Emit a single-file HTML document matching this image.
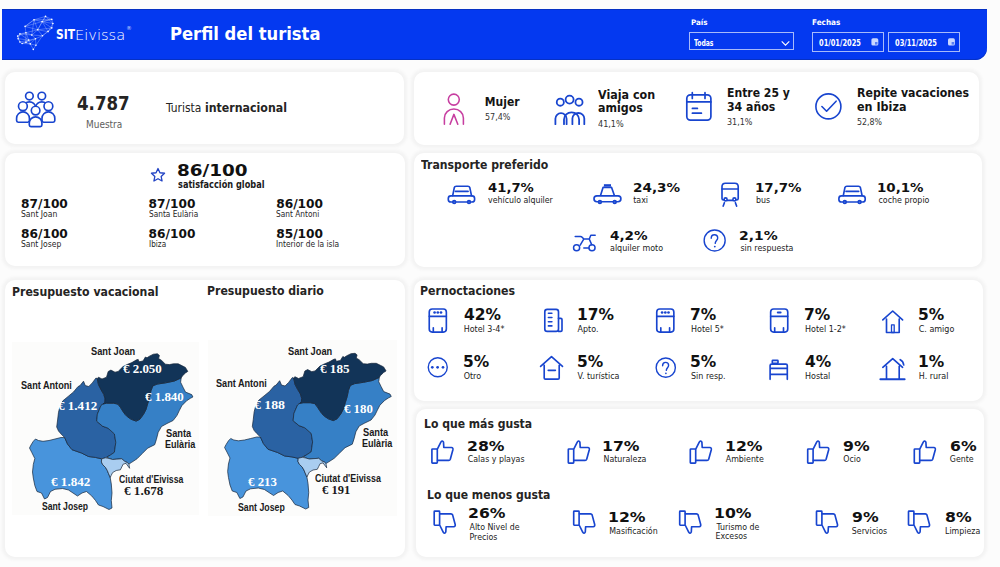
<!DOCTYPE html>
<html><head><meta charset="utf-8"><title>Perfil del turista</title>
<style>
html,body{margin:0;padding:0;width:1000px;height:567px;overflow:hidden;background:#fcfcfc}
.t{position:absolute;white-space:nowrap;transform-origin:0 0}
.card{position:absolute;background:#fff;border-radius:10px;box-shadow:0 0 3px 3px #f3f3f3}
.box{position:absolute;border:1px solid rgba(255,255,255,0.65);box-sizing:border-box}
</style></head><body>
<div style="position:absolute;left:2px;top:9px;width:985px;height:51px;background:#0439f0;border-radius:0 0 12px 0;box-shadow:inset 0 1px 0 #0631c4,inset 0 -1px 0 #0631c4"></div>
<div class="box" style="left:688.6px;top:32.2px;width:105.2px;height:18px"></div>
<div class="box" style="left:811.6px;top:32.1px;width:72px;height:20.1px"></div>
<div class="box" style="left:888.4px;top:32.1px;width:71.4px;height:20.1px"></div>
<div class="card" style="left:5px;top:72px;width:399.3px;height:72px"></div>
<div class="card" style="left:413.8px;top:72px;width:565.7px;height:73.3px"></div>
<div class="card" style="left:5px;top:152.5px;width:399.5px;height:113.5px"></div>
<div class="card" style="left:413.8px;top:152.5px;width:568.2px;height:114.5px"></div>
<div class="card" style="left:5px;top:279.7px;width:399.8px;height:277px"></div>
<div class="card" style="left:414.3px;top:279.7px;width:568.3px;height:121.5px"></div>
<div class="card" style="left:416.2px;top:409px;width:568.1px;height:148.3px"></div>
<div style="position:absolute;left:12.4px;top:342.4px;width:187px;height:173px;background:#fcfcfb"></div>
<div style="position:absolute;left:207.5px;top:340px;width:189.5px;height:175.5px;background:#fcfcfb"></div>
<svg style="position:absolute;left:0;top:0" width="1000" height="567" viewBox="0 0 1000 567">
<g stroke="#d6e2ff" stroke-width="0.42" stroke-opacity="0.75"><line x1="34" y1="19.8" x2="45.5" y2="16.4"/><line x1="45.5" y1="16.4" x2="51.8" y2="19.4"/><line x1="51.8" y1="19.4" x2="52.9" y2="23.5"/><line x1="52.9" y1="23.5" x2="51.8" y2="27.9"/><line x1="51.8" y1="27.9" x2="48.1" y2="31.6"/><line x1="48.1" y1="31.6" x2="42.5" y2="35.7"/><line x1="42.5" y1="35.7" x2="35.5" y2="38.7"/><line x1="34" y1="19.8" x2="25.1" y2="26.4"/><line x1="25.1" y1="26.4" x2="25.9" y2="32.7"/><line x1="25.9" y1="32.7" x2="19.9" y2="33.9"/><line x1="19.9" y1="33.9" x2="17.7" y2="36.1"/><line x1="17.7" y1="36.1" x2="18.1" y2="38.7"/><line x1="18.1" y1="38.7" x2="19.9" y2="42"/><line x1="19.9" y1="42" x2="22.1" y2="43.5"/><line x1="22.1" y1="43.5" x2="25.9" y2="42.4"/><line x1="25.9" y1="42.4" x2="30.3" y2="43.9"/><line x1="30.3" y1="43.9" x2="35.9" y2="45.3"/><line x1="35.9" y1="45.3" x2="33.3" y2="49.4"/><line x1="33.3" y1="49.4" x2="30.3" y2="43.9"/><line x1="34" y1="19.8" x2="42.1" y2="21.6"/><line x1="42.1" y1="21.6" x2="45.5" y2="16.4"/><line x1="42.1" y1="21.6" x2="51.8" y2="19.4"/><line x1="34" y1="19.8" x2="37.7" y2="29.8"/><line x1="37.7" y1="29.8" x2="42.1" y2="21.6"/><line x1="37.7" y1="29.8" x2="42.5" y2="35.7"/><line x1="42.1" y1="21.6" x2="51.8" y2="27.9"/><line x1="52.9" y1="23.5" x2="42.1" y2="21.6"/><line x1="25.1" y1="26.4" x2="37.7" y2="29.8"/><line x1="25.9" y1="32.7" x2="31.8" y2="35"/><line x1="31.8" y1="35" x2="37.7" y2="29.8"/><line x1="31.8" y1="35" x2="35.5" y2="38.7"/><line x1="35.5" y1="38.7" x2="35.9" y2="45.3"/><line x1="25.9" y1="32.7" x2="28.8" y2="40.1"/><line x1="28.8" y1="40.1" x2="30.3" y2="43.9"/><line x1="28.8" y1="40.1" x2="35.5" y2="38.7"/><line x1="19.9" y1="33.9" x2="28.8" y2="40.1"/><line x1="25.9" y1="42.4" x2="28.8" y2="40.1"/><line x1="34" y1="19.8" x2="31.8" y2="35"/><line x1="19.9" y1="33.9" x2="18.1" y2="38.7"/><line x1="17.7" y1="36.1" x2="19.9" y2="42"/><line x1="22.1" y1="43.5" x2="28.8" y2="40.1"/><line x1="45.5" y1="16.4" x2="52.9" y2="23.5"/><line x1="42.1" y1="21.6" x2="48.1" y2="31.6"/><line x1="37.7" y1="29.8" x2="48.1" y2="31.6"/><line x1="25.1" y1="26.4" x2="42.1" y2="21.6"/><line x1="25.9" y1="32.7" x2="37.7" y2="29.8"/><line x1="19.9" y1="33.9" x2="31.8" y2="35"/><line x1="17.7" y1="36.1" x2="25.9" y2="32.7"/><line x1="18.1" y1="38.7" x2="28.8" y2="40.1"/><line x1="19.9" y1="42" x2="28.8" y2="40.1"/><line x1="22.1" y1="43.5" x2="30.3" y2="43.9"/><line x1="25.9" y1="42.4" x2="35.5" y2="38.7"/><line x1="30.3" y1="43.9" x2="35.5" y2="38.7"/><line x1="35.9" y1="45.3" x2="42.5" y2="35.7"/><line x1="31.8" y1="35" x2="42.5" y2="35.7"/><line x1="37.7" y1="29.8" x2="51.8" y2="27.9"/><line x1="45.5" y1="16.4" x2="37.7" y2="29.8"/><line x1="25.1" y1="26.4" x2="34" y2="19.8"/><line x1="34" y1="19.8" x2="51.8" y2="19.4"/><line x1="51.8" y1="19.4" x2="42.1" y2="21.6"/><line x1="52.9" y1="23.5" x2="48.1" y2="31.6"/><line x1="51.8" y1="27.9" x2="42.5" y2="35.7"/><line x1="25.9" y1="32.7" x2="25.9" y2="42.4"/></g><g fill="#ffffff"><circle cx="45.5" cy="16.4" r="0.8"/><circle cx="34" cy="19.8" r="0.8"/><circle cx="51.8" cy="19.4" r="0.8"/><circle cx="52.9" cy="23.5" r="0.8"/><circle cx="42.1" cy="21.6" r="0.8"/><circle cx="25.1" cy="26.4" r="0.8"/><circle cx="51.8" cy="27.9" r="0.8"/><circle cx="37.7" cy="29.8" r="0.8"/><circle cx="48.1" cy="31.6" r="0.8"/><circle cx="25.9" cy="32.7" r="0.8"/><circle cx="19.9" cy="33.9" r="0.8"/><circle cx="17.7" cy="36.1" r="0.8"/><circle cx="42.5" cy="35.7" r="0.8"/><circle cx="35.5" cy="38.7" r="0.8"/><circle cx="18.1" cy="38.7" r="0.8"/><circle cx="19.9" cy="42" r="0.8"/><circle cx="22.1" cy="43.5" r="0.8"/><circle cx="25.9" cy="42.4" r="0.8"/><circle cx="30.3" cy="43.9" r="0.8"/><circle cx="35.9" cy="45.3" r="0.8"/><circle cx="33.3" cy="49.4" r="0.8"/><circle cx="28.8" cy="40.1" r="0.8"/><circle cx="31.8" cy="35" r="0.8"/></g>

<path d="M781.7,41.3 L785.5,45.1 L789.3,41.3" fill="none" stroke="#fff" stroke-width="1.1"/>
<g fill="#c9d6ff"><rect x="871.4" y="38.3" width="6.9" height="7.2" rx="1.6"/><rect x="948" y="38.3" width="6.9" height="7.2" rx="1.6"/></g>
<g fill="#5a7ef5"><rect x="875" y="42" width="2.5" height="2.6"/><rect x="951.6" y="42" width="2.5" height="2.6"/></g>
<g stroke="#16253a" stroke-width="0.7" stroke-linejoin="round"><polygon points="33.3,441.3 35.5,439.0 38.5,440.5 43.0,441.3 49.0,440.5 55.0,439.0 61.0,437.5 64.7,437.6 67.5,444.0 72.0,449.7 81.5,453.0 88.5,456.5 95.3,457.4 101.7,458.8 101.4,462.0 102.8,464.8 105.6,467.6 107.3,470.5 108.4,473.3 110.2,477.5 111.3,484.0 112.0,493.0 111.3,500.5 112.0,508.0 109.0,509.5 103.0,506.5 98.5,505.0 95.5,500.5 91.8,496.0 86.5,491.5 82.0,493.0 77.5,496.0 73.0,493.0 68.5,490.0 62.5,488.5 55.0,489.3 50.5,491.5 47.5,497.5 44.5,499.0 41.5,493.0 37.0,491.5 34.8,485.5 33.3,478.0 32.5,472.0 33.3,464.5 34.8,458.5 31.8,452.5 29.5,448.0 31.0,445.0" fill="#4894dc"/><polygon points="77.9,386.7 80.0,385.6 83.5,381.2 85.3,385.6 88.8,386.5 92.3,382.9 95.9,378.1 97.2,378.5 98.5,384.7 101.2,390.0 103.8,394.4 105.1,398.8 104.8,402.3 103.0,404.0 101.0,405.5 97.4,414.1 96.7,421.2 102.4,426.1 108.0,428.2 114.4,433.9 115.8,442.4 114.4,452.3 110.5,455.0 107.0,457.0 105.6,457.8 101.7,458.8 95.3,457.4 88.5,456.5 81.5,453.0 72.0,449.7 67.5,444.0 64.7,437.6 61.1,434.0 58.5,431.0 56.7,427.0 57.6,420.0 58.5,412.3 60.3,405.3 62.9,400.8 68.2,396.4 73.5,392.0" fill="#2a62a3"/><polygon points="103.0,404.0 106.5,403.2 113.5,403.2 117.9,404.1 120.6,407.6 122.7,411.0 125.0,414.3 127.5,416.8 131.2,419.3 136.1,421.1 139.8,419.3 143.5,414.3 146.0,409.4 147.8,403.2 149.7,397.0 150.9,390.9 152.8,385.9 157.1,384.1 165.7,382.8 174.4,381.0 181.2,377.9 180.6,382.2 183.0,387.2 185.5,392.1 191.7,394.6 192.9,397.0 190.4,398.3 186.7,400.7 181.8,405.7 179.3,410.6 176.9,415.6 173.1,420.5 167.0,423.5 161.5,426.5 158.2,432.3 156.4,439.4 154.7,444.7 147.6,448.2 142.3,453.5 137.0,458.8 131.7,462.3 128.9,464.1 127.5,462.7 124.6,461.3 121.8,458.8 116.2,459.2 112.6,459.5 109.1,458.5 107.0,457.0 110.5,455.0 114.4,452.3 115.8,442.4 114.4,433.9 108.0,428.2 102.4,426.1 96.7,421.2 97.4,414.1 101.0,405.5" fill="#3680c6"/><polygon points="101.7,458.8 105.6,457.8 109.1,458.5 112.6,459.5 116.2,459.2 121.8,458.8 124.6,461.3 127.5,462.7 128.9,464.1 129.6,468.3 126.0,463.4 123.2,464.1 121.8,466.9 120.4,469.8 116.2,470.5 112.6,472.6 111.2,475.4 110.2,477.5 108.4,473.3 107.3,470.5 105.6,467.6 102.8,464.8 101.4,462.0" fill="#a9cdf0"/><polygon points="97.2,378.5 98.5,377.2 102.0,379.0 106.5,377.2 108.2,371.5 110.9,370.1 115.0,372.2 118.2,371.4 123.0,366.6 127.8,364.2 131.8,362.6 136.6,359.8 138.2,359.4 139.0,361.8 143.0,361.0 145.4,357.0 147.0,357.8 149.4,356.2 153.4,354.2 157.4,353.8 159.4,355.4 158.6,358.6 161.4,360.2 165.4,364.2 169.4,364.6 173.4,363.8 178.2,363.8 182.2,365.8 185.4,367.4 187.8,371.4 185.4,373.0 182.2,376.2 181.2,377.9 174.4,381.0 165.7,382.8 157.1,384.1 152.8,385.9 150.9,390.9 149.7,397.0 147.8,403.2 146.0,409.4 143.5,414.3 139.8,419.3 136.1,421.1 131.2,419.3 127.5,416.8 125.0,414.3 122.7,411.0 120.6,407.6 117.9,404.1 113.5,403.2 106.5,403.2 103.0,404.0 104.8,402.3 105.1,398.8 103.8,394.4 101.2,390.0 98.5,384.7" fill="#123458"/></g>
<g transform="translate(194.5,-0.5) scale(1.02,1)"><g stroke="#16253a" stroke-width="0.7" stroke-linejoin="round"><polygon points="33.3,441.3 35.5,439.0 38.5,440.5 43.0,441.3 49.0,440.5 55.0,439.0 61.0,437.5 64.7,437.6 67.5,444.0 72.0,449.7 81.5,453.0 88.5,456.5 95.3,457.4 101.7,458.8 101.4,462.0 102.8,464.8 105.6,467.6 107.3,470.5 108.4,473.3 110.2,477.5 111.3,484.0 112.0,493.0 111.3,500.5 112.0,508.0 109.0,509.5 103.0,506.5 98.5,505.0 95.5,500.5 91.8,496.0 86.5,491.5 82.0,493.0 77.5,496.0 73.0,493.0 68.5,490.0 62.5,488.5 55.0,489.3 50.5,491.5 47.5,497.5 44.5,499.0 41.5,493.0 37.0,491.5 34.8,485.5 33.3,478.0 32.5,472.0 33.3,464.5 34.8,458.5 31.8,452.5 29.5,448.0 31.0,445.0" fill="#4894dc"/><polygon points="77.9,386.7 80.0,385.6 83.5,381.2 85.3,385.6 88.8,386.5 92.3,382.9 95.9,378.1 97.2,378.5 98.5,384.7 101.2,390.0 103.8,394.4 105.1,398.8 104.8,402.3 103.0,404.0 101.0,405.5 97.4,414.1 96.7,421.2 102.4,426.1 108.0,428.2 114.4,433.9 115.8,442.4 114.4,452.3 110.5,455.0 107.0,457.0 105.6,457.8 101.7,458.8 95.3,457.4 88.5,456.5 81.5,453.0 72.0,449.7 67.5,444.0 64.7,437.6 61.1,434.0 58.5,431.0 56.7,427.0 57.6,420.0 58.5,412.3 60.3,405.3 62.9,400.8 68.2,396.4 73.5,392.0" fill="#2a62a3"/><polygon points="103.0,404.0 106.5,403.2 113.5,403.2 117.9,404.1 120.6,407.6 122.7,411.0 125.0,414.3 127.5,416.8 131.2,419.3 136.1,421.1 139.8,419.3 143.5,414.3 146.0,409.4 147.8,403.2 149.7,397.0 150.9,390.9 152.8,385.9 157.1,384.1 165.7,382.8 174.4,381.0 181.2,377.9 180.6,382.2 183.0,387.2 185.5,392.1 191.7,394.6 192.9,397.0 190.4,398.3 186.7,400.7 181.8,405.7 179.3,410.6 176.9,415.6 173.1,420.5 167.0,423.5 161.5,426.5 158.2,432.3 156.4,439.4 154.7,444.7 147.6,448.2 142.3,453.5 137.0,458.8 131.7,462.3 128.9,464.1 127.5,462.7 124.6,461.3 121.8,458.8 116.2,459.2 112.6,459.5 109.1,458.5 107.0,457.0 110.5,455.0 114.4,452.3 115.8,442.4 114.4,433.9 108.0,428.2 102.4,426.1 96.7,421.2 97.4,414.1 101.0,405.5" fill="#3680c6"/><polygon points="101.7,458.8 105.6,457.8 109.1,458.5 112.6,459.5 116.2,459.2 121.8,458.8 124.6,461.3 127.5,462.7 128.9,464.1 129.6,468.3 126.0,463.4 123.2,464.1 121.8,466.9 120.4,469.8 116.2,470.5 112.6,472.6 111.2,475.4 110.2,477.5 108.4,473.3 107.3,470.5 105.6,467.6 102.8,464.8 101.4,462.0" fill="#a9cdf0"/><polygon points="97.2,378.5 98.5,377.2 102.0,379.0 106.5,377.2 108.2,371.5 110.9,370.1 115.0,372.2 118.2,371.4 123.0,366.6 127.8,364.2 131.8,362.6 136.6,359.8 138.2,359.4 139.0,361.8 143.0,361.0 145.4,357.0 147.0,357.8 149.4,356.2 153.4,354.2 157.4,353.8 159.4,355.4 158.6,358.6 161.4,360.2 165.4,364.2 169.4,364.6 173.4,363.8 178.2,363.8 182.2,365.8 185.4,367.4 187.8,371.4 185.4,373.0 182.2,376.2 181.2,377.9 174.4,381.0 165.7,382.8 157.1,384.1 152.8,385.9 150.9,390.9 149.7,397.0 147.8,403.2 146.0,409.4 143.5,414.3 139.8,419.3 136.1,421.1 131.2,419.3 127.5,416.8 125.0,414.3 122.7,411.0 120.6,407.6 117.9,404.1 113.5,403.2 106.5,403.2 103.0,404.0 104.8,402.3 105.1,398.8 103.8,394.4 101.2,390.0 98.5,384.7" fill="#123458"/></g></g>
<g fill="none" stroke="#1845cf" stroke-width="1.65" stroke-linecap="round" stroke-linejoin="round"><g><path d="M23.4,110 L23.4,106.92 A6.00,5.02 0 0 1 35.4,106.92 L35.4,110" fill="#fff"/><circle cx="29.4" cy="96.1" r="3.8" fill="#fff"/><path d="M35.8,110 L35.8,106.92 A6.00,5.02 0 0 1 47.8,106.92 L47.8,110" fill="#fff"/><circle cx="41.8" cy="96.1" r="3.8" fill="#fff"/><path d="M16.6,120.60000000000001 L16.6,118.29 A6.40,6.39 0 0 1 29.4,118.29 L29.4,120.60000000000001 Q29.4,122.2 27.799999999999997,122.2 L18.200000000000003,122.2 Q16.6,122.2 16.6,120.60000000000001 Z" fill="#fff"/><circle cx="22.9" cy="106.2" r="4.4" fill="#fff"/><path d="M42,120.60000000000001 L42,118.29 A6.40,6.39 0 0 1 54.8,118.29 L54.8,120.60000000000001 Q54.8,122.2 53.199999999999996,122.2 L43.6,122.2 Q42,122.2 42,120.60000000000001 Z" fill="#fff"/><circle cx="48.4" cy="106.2" r="4.4" fill="#fff"/><path d="M29.3,125.0 L29.3,122.91 A6.30,6.01 0 0 1 41.9,122.91 L41.9,125.0 Q41.9,126.6 40.3,126.6 L30.900000000000002,126.6 Q29.3,126.6 29.3,125.0 Z" fill="#fff"/><circle cx="35.6" cy="110.6" r="4.3" fill="#fff"/></g><g stroke-width="1.8"><circle cx="560.3" cy="102.2" r="3.55"/><circle cx="569.6" cy="99.6" r="4.0"/><circle cx="579" cy="102.2" r="3.55"/><path d="M555.4,124.2 L555.4,118.8 A5.6,5.6 0 0 1 566.6,118.8 L566.6,124.2"/><path d="M564,124.2 L564,119.6 A7.55,7.3 0 0 1 579.1,119.6 L579.1,124.2"/><path d="M572.4,124.2 L572.4,118.6 A5.95,5.6 0 0 1 584.3,118.6 L584.3,124.2"/></g><g stroke-width="1.7"><rect x="686.8" y="94.9" width="24.1" height="25.2" rx="3.6"/><path d="M686.8,101.9 L710.9,101.9 M692.3,92.7 L692.3,98.4 M705,92.7 L705,98.4 M692.4,108.4 L697.4,108.4 M692.4,113.2 L701.4,113.2"/></g><g stroke-width="1.6"><circle cx="828.4" cy="106.4" r="12.5"/><path d="M821.9,106.5 L826.6,111.2 L836.1,101.2"/></g><polygon points="158.00,168.50 159.94,172.73 164.56,173.27 161.14,176.42 162.06,180.98 158.00,178.70 153.94,180.98 154.86,176.42 151.44,173.27 156.06,172.73" stroke="#2243c4" stroke-width="1.3"/><g><path d="M452.7,195.6 L454.3,187.6 Q454.7,186.2 456.2,186.2 L467.9,186.2 Q469.4,186.2 469.8,187.6 L471.5,195.6"/><path d="M455.4,191.4 L468.1,191.4"/><rect x="448.3" y="195.9" width="26.3" height="6.1" rx="2.6"/><circle cx="454.2" cy="202.1" r="1.4" fill="#6f8fe6" stroke-width="1.7"/><circle cx="469" cy="202.1" r="1.4" fill="#6f8fe6" stroke-width="1.7"/></g><g transform="translate(390.6,0)"><path d="M452.7,195.6 L454.3,187.6 Q454.7,186.2 456.2,186.2 L467.9,186.2 Q469.4,186.2 469.8,187.6 L471.5,195.6"/><path d="M455.4,191.4 L468.1,191.4"/><rect x="448.3" y="195.9" width="26.3" height="6.1" rx="2.6"/><circle cx="454.2" cy="202.1" r="1.4" fill="#6f8fe6" stroke-width="1.7"/><circle cx="469" cy="202.1" r="1.4" fill="#6f8fe6" stroke-width="1.7"/></g><rect x="603.9" y="184.2" width="7.1" height="2.4" fill="#1845cf" stroke="none"/><path d="M600.6,195.2 L603.1,187.3 L611.5,187.3 L614.3,195.2"/><rect x="594" y="195.9" width="26.9" height="5.8" rx="2.9"/><circle cx="599.9" cy="202" r="1.4" fill="#6f8fe6" stroke-width="1.7"/><circle cx="614.7" cy="202" r="1.4" fill="#6f8fe6" stroke-width="1.7"/><path d="M723.4,199.9 Q722,199.9 722,198.4 L722,186.6 Q722,183.2 725.4,183.2 L734.8,183.2 Q738.2,183.2 738.2,186.6 L738.2,198.4 Q738.2,199.9 736.7,199.9"/><path d="M722,189 L738.2,189 M727.2,200.4 L732.5,200.4 M724.4,202.7 L723.2,206.1 M735.4,202.7 L736.6,206.1"/><circle cx="725.6" cy="199.4" r="1.5" fill="#fff"/><circle cx="734.4" cy="199.4" r="1.5" fill="#fff"/><g stroke-width="1.5"><circle cx="576.6" cy="247.8" r="3.05"/><circle cx="592" cy="247.8" r="3.05"/><path d="M575.2,236.4 L580.4,236.4 Q581.5,236.4 582.4,237.4 L583.8,239.1 L589.3,239.1 L590.8,235.2 L595.2,235.2 M589.3,239.1 L591.7,244.6 M583.6,239.4 L580.2,245.2 M583.8,248 L588.8,248"/></g><g stroke-width="1.4"><circle cx="714.65" cy="240.45" r="10.5"/><path d="M711.2,238.3 C711.2,236 712.6,234.7 714.4,234.7 C716.3,234.7 717.7,236 717.7,237.9 C717.7,240.3 715.3,240.8 715.2,243.4"/><circle cx="714.8" cy="246.6" r="0.9" fill="#1845cf" stroke="none"/></g><g transform="translate(0,0)"><rect x="429.25" y="308.95" width="17.1" height="23.1" rx="3"/><path d="M429.25,316.3 L446.35,316.3 M433.3,327.8 L433.3,331.8 M442.1,327.8 L442.1,331.8"/><g fill="#1845cf" stroke="none"><circle cx="434.6" cy="312.5" r="1.35"/><circle cx="437.8" cy="312.5" r="1.35"/><circle cx="441" cy="312.5" r="1.35"/></g></g><g transform="translate(227.5,0)"><rect x="429.25" y="308.95" width="17.1" height="23.1" rx="3"/><path d="M429.25,316.3 L446.35,316.3 M433.3,327.8 L433.3,331.8 M442.1,327.8 L442.1,331.8"/><g fill="#1845cf" stroke="none"><circle cx="434.6" cy="312.5" r="1.35"/><circle cx="437.8" cy="312.5" r="1.35"/><circle cx="441" cy="312.5" r="1.35"/></g></g><g transform="translate(341.4,0)"><rect x="429.25" y="308.95" width="17.1" height="23.1" rx="3"/><path d="M429.25,316.3 L446.35,316.3 M433.3,327.8 L433.3,331.8 M442.1,327.8 L442.1,331.8"/><rect x="435.4" y="311.5" width="4.8" height="2" rx="1" fill="#1845cf" stroke="none"/></g><rect x="544.8" y="309.3" width="13.7" height="22.1" rx="2.4"/><path d="M558.5,318.4 L560.8,318.4 Q562,318.4 562,319.6 L562,330.2 Q562,331.4 560.8,331.4 L558.5,331.4"/><path d="M548.4,313.3 L551.9,313.3 M548.4,317.5 L551.9,317.5 M548.4,321.7 L551.9,321.7 M548.4,325.9 L551.9,325.9" stroke-width="1.6"/><path d="M882.8,319.9 L892.7,311 L902.6,319.9 M886.5,319 L886.5,332.5 L899.2,332.5 L899.2,319"/><rect x="891.5" y="324.8" width="2.7" height="7.7" stroke-width="1.3"/><g stroke-width="1.4"><circle cx="437.75" cy="367.2" r="9.5"/></g><g fill="#1845cf" stroke="none"><circle cx="432.3" cy="367.3" r="1.35"/><circle cx="437.6" cy="367.3" r="1.35"/><circle cx="443" cy="367.3" r="1.35"/></g><path d="M540.6,366.4 L551.5,356.6 L562.5,366.4 M544.2,365.3 L544.2,377.9 Q544.2,379.1 545.4,379.1 L558,379.1 Q559.2,379.1 559.2,377.9 L559.2,365.3 M548.2,370.3 L555.4,370.3"/><g stroke-width="1.4"><circle cx="665.75" cy="367.65" r="9.6"/><path d="M662.6,365.7 C662.6,363.6 663.9,362.4 665.5,362.4 C667.2,362.4 668.6,363.6 668.6,365.3 C668.6,367.5 666.4,368 666.3,370.4"/><circle cx="665.9" cy="373.3" r="0.85" fill="#1845cf" stroke="none"/></g><rect x="772.3" y="360.4" width="5.7" height="3" rx="0.6"/><path d="M770.1,379.3 L770.1,365.6 Q770.1,364.1 771.6,364.1 L785.8,364.1 Q787.3,364.1 787.3,365.6 L787.3,379.3 M770.1,368.3 L787.3,368.3 M770.1,374.4 L787.3,374.4"/><path d="M882.8,367.3 L892.7,358.6 L902.6,367.3 M886.5,366.2 L886.5,379 M899.2,366.2 L899.2,379 M900.2,359.7 Q903.3,361.2 903.7,365"/><path d="M880.4,379.2 L904.6,379.2" stroke-width="2"/><g transform="translate(0,0)"><rect x="431.9" y="449" width="5.4" height="14.1" rx="0.6"/><path d="M437.6,448.7 L441,441.9 Q442.4,439.9 443.5,442.2 L443.8,447.4 L451.4,447.5 Q453.3,447.7 452.9,449.7 L450.3,459.3 Q449.9,460.4 448.7,460.4 L437.6,460.4"/></g><g transform="translate(136.4,0)"><rect x="431.9" y="449" width="5.4" height="14.1" rx="0.6"/><path d="M437.6,448.7 L441,441.9 Q442.4,439.9 443.5,442.2 L443.8,447.4 L451.4,447.5 Q453.3,447.7 452.9,449.7 L450.3,459.3 Q449.9,460.4 448.7,460.4 L437.6,460.4"/></g><g transform="translate(258.4,0)"><rect x="431.9" y="449" width="5.4" height="14.1" rx="0.6"/><path d="M437.6,448.7 L441,441.9 Q442.4,439.9 443.5,442.2 L443.8,447.4 L451.4,447.5 Q453.3,447.7 452.9,449.7 L450.3,459.3 Q449.9,460.4 448.7,460.4 L437.6,460.4"/></g><g transform="translate(375.8,0)"><rect x="431.9" y="449" width="5.4" height="14.1" rx="0.6"/><path d="M437.6,448.7 L441,441.9 Q442.4,439.9 443.5,442.2 L443.8,447.4 L451.4,447.5 Q453.3,447.7 452.9,449.7 L450.3,459.3 Q449.9,460.4 448.7,460.4 L437.6,460.4"/></g><g transform="translate(482.4,0)"><rect x="431.9" y="449" width="5.4" height="14.1" rx="0.6"/><path d="M437.6,448.7 L441,441.9 Q442.4,439.9 443.5,442.2 L443.8,447.4 L451.4,447.5 Q453.3,447.7 452.9,449.7 L450.3,459.3 Q449.9,460.4 448.7,460.4 L437.6,460.4"/></g><g transform="translate(2.3,974.2) scale(1,-1)"><rect x="431.9" y="449" width="5.4" height="14.1" rx="0.6"/><path d="M437.6,448.7 L441,441.9 Q442.4,439.9 443.5,442.2 L443.8,447.4 L451.4,447.5 Q453.3,447.7 452.9,449.7 L450.3,459.3 Q449.9,460.4 448.7,460.4 L437.6,460.4"/></g><g transform="translate(141.8,974.2) scale(1,-1)"><rect x="431.9" y="449" width="5.4" height="14.1" rx="0.6"/><path d="M437.6,448.7 L441,441.9 Q442.4,439.9 443.5,442.2 L443.8,447.4 L451.4,447.5 Q453.3,447.7 452.9,449.7 L450.3,459.3 Q449.9,460.4 448.7,460.4 L437.6,460.4"/></g><g transform="translate(247.8,974.2) scale(1,-1)"><rect x="431.9" y="449" width="5.4" height="14.1" rx="0.6"/><path d="M437.6,448.7 L441,441.9 Q442.4,439.9 443.5,442.2 L443.8,447.4 L451.4,447.5 Q453.3,447.7 452.9,449.7 L450.3,459.3 Q449.9,460.4 448.7,460.4 L437.6,460.4"/></g><g transform="translate(384.6,974.2) scale(1,-1)"><rect x="431.9" y="449" width="5.4" height="14.1" rx="0.6"/><path d="M437.6,448.7 L441,441.9 Q442.4,439.9 443.5,442.2 L443.8,447.4 L451.4,447.5 Q453.3,447.7 452.9,449.7 L450.3,459.3 Q449.9,460.4 448.7,460.4 L437.6,460.4"/></g><g transform="translate(476.6,974.2) scale(1,-1)"><rect x="431.9" y="449" width="5.4" height="14.1" rx="0.6"/><path d="M437.6,448.7 L441,441.9 Q442.4,439.9 443.5,442.2 L443.8,447.4 L451.4,447.5 Q453.3,447.7 452.9,449.7 L450.3,459.3 Q449.9,460.4 448.7,460.4 L437.6,460.4"/></g></g><g fill="none" stroke="#c73ea0" stroke-width="1.55" stroke-linecap="round" stroke-linejoin="round"><circle cx="453.8" cy="99.6" r="5.5"/><path d="M444.4,124.2 L444.4,118 A9.5,9 0 0 1 463.4,118 L463.4,124.2 M450.1,124.2 L453.9,114.4 L457.8,124.2"/></g>
</svg>
<div class="t" style="left:170.18px;top:24.85px;font:bold 17.8px/17.8px 'DejaVu Sans Condensed','DejaVu Sans',sans-serif;color:#ffffff;transform:scaleX(1.023)">Perfil del turista</div>
<div class="t" style="left:691.40px;top:18.53px;font:bold 7.7px/7.7px 'DejaVu Sans Condensed','DejaVu Sans',sans-serif;color:#ffffff;transform:scaleX(1.032)">País</div>
<div class="t" style="left:811.90px;top:18.66px;font:bold 7.9px/7.9px 'DejaVu Sans Condensed','DejaVu Sans',sans-serif;color:#ffffff;transform:scaleX(1.026)">Fechas</div>
<div class="t" style="left:694.20px;top:38.91px;font:bold 8.2px/8.2px 'DejaVu Sans Condensed','DejaVu Sans',sans-serif;color:#ffffff;transform:scaleX(0.825)">Todas</div>
<div class="t" style="left:818.70px;top:38.27px;font:bold 9.2px/9.2px 'DejaVu Sans Condensed','DejaVu Sans',sans-serif;color:#ffffff;transform:scaleX(0.807)">01/01/2025</div>
<div class="t" style="left:895.20px;top:38.27px;font:bold 9.2px/9.2px 'DejaVu Sans Condensed','DejaVu Sans',sans-serif;color:#ffffff;transform:scaleX(0.807)">03/11/2025</div>
<div class="t" style="left:55.60px;top:28.01px;font:bold 13.8px/13.8px 'DejaVu Sans',sans-serif;color:#ffffff;transform:scaleX(0.774)">SIT</div>
<div class="t" style="left:75.37px;top:27.67px;font:200 14.2px/14.2px 'DejaVu Sans',sans-serif;color:#ffffff;transform:scaleX(1.029)">Eivissa</div>
<div class="t" style="left:126.20px;top:25.58px;font:normal 5.5px/5.5px 'DejaVu Sans',sans-serif;color:#c8d4ff">®</div>
<div class="t" style="left:77.30px;top:93.67px;font:bold 19.2px/19.2px 'DejaVu Sans Condensed','DejaVu Sans',sans-serif;color:#252423;transform:scaleX(0.965)">4.787</div>
<div class="t" style="left:85.70px;top:119.60px;font:normal 10px/10px 'DejaVu Sans Condensed','DejaVu Sans',sans-serif;color:#605e5c;transform:scaleX(0.994)">Muestra</div>
<div class="t" style="left:166.32px;top:101.08px;font:normal 13px/13px 'DejaVu Sans Condensed','DejaVu Sans',sans-serif;color:#252423;transform:scaleX(0.916)">Turista</div>
<div class="t" style="left:205.40px;top:101.08px;font:bold 13px/13px 'DejaVu Sans Condensed','DejaVu Sans',sans-serif;color:#252423;transform:scaleX(0.941)">internacional</div>
<div class="t" style="left:484.80px;top:95.92px;font:bold 12px/12px 'DejaVu Sans Condensed','DejaVu Sans',sans-serif;color:#141414">Mujer</div>
<div class="t" style="left:484.70px;top:113.41px;font:normal 8.8px/8.8px 'DejaVu Sans Condensed','DejaVu Sans',sans-serif;color:#333333;transform:scaleX(1.007)">57,4%</div>
<div class="t" style="left:597.80px;top:89.79px;font:bold 11.8px/11.8px 'DejaVu Sans Condensed','DejaVu Sans',sans-serif;color:#141414;transform:scaleX(1.049)">Viaja con</div>
<div class="t" style="left:597.80px;top:103.29px;font:bold 11.8px/11.8px 'DejaVu Sans Condensed','DejaVu Sans',sans-serif;color:#141414;transform:scaleX(1.041)">amigos</div>
<div class="t" style="left:597.80px;top:120.21px;font:normal 8.8px/8.8px 'DejaVu Sans Condensed','DejaVu Sans',sans-serif;color:#333333;transform:scaleX(1.023)">41,1%</div>
<div class="t" style="left:727.20px;top:88.39px;font:bold 11.8px/11.8px 'DejaVu Sans Condensed','DejaVu Sans',sans-serif;color:#141414;transform:scaleX(1.023)">Entre 25 y</div>
<div class="t" style="left:727.20px;top:102.09px;font:bold 11.8px/11.8px 'DejaVu Sans Condensed','DejaVu Sans',sans-serif;color:#141414;transform:scaleX(1.031)">34 años</div>
<div class="t" style="left:727.20px;top:118.41px;font:normal 8.8px/8.8px 'DejaVu Sans Condensed','DejaVu Sans',sans-serif;color:#333333;transform:scaleX(1.011)">31,1%</div>
<div class="t" style="left:857.00px;top:87.99px;font:bold 11.8px/11.8px 'DejaVu Sans Condensed','DejaVu Sans',sans-serif;color:#141414;transform:scaleX(1.033)">Repite vacaciones</div>
<div class="t" style="left:857.00px;top:101.89px;font:bold 11.8px/11.8px 'DejaVu Sans Condensed','DejaVu Sans',sans-serif;color:#141414;transform:scaleX(1.053)">en Ibiza</div>
<div class="t" style="left:857.00px;top:118.01px;font:normal 8.8px/8.8px 'DejaVu Sans Condensed','DejaVu Sans',sans-serif;color:#333333;transform:scaleX(0.992)">52,8%</div>
<div class="t" style="left:176.89px;top:162.64px;font:bold 16.5px/16.5px 'DejaVu Sans',sans-serif;color:#111;transform:scaleX(1.114)">86/100</div>
<div class="t" style="left:177.50px;top:179.94px;font:bold 9.6px/9.6px 'DejaVu Sans Condensed','DejaVu Sans',sans-serif;color:#1a1a1a;transform:scaleX(0.950)">satisfacción global</div>
<div class="t" style="left:21.00px;top:197.95px;font:bold 12.2px/12.2px 'DejaVu Sans',sans-serif;color:#111">87/100</div>
<div class="t" style="left:21.00px;top:210.78px;font:normal 8px/8px 'DejaVu Sans',sans-serif;color:#1e1e1e;transform:scaleX(0.958)">Sant Joan</div>
<div class="t" style="left:21.00px;top:227.95px;font:bold 12.2px/12.2px 'DejaVu Sans',sans-serif;color:#111">86/100</div>
<div class="t" style="left:21.00px;top:240.58px;font:normal 8px/8px 'DejaVu Sans',sans-serif;color:#1e1e1e;transform:scaleX(0.955)">Sant Josep</div>
<div class="t" style="left:148.60px;top:197.95px;font:bold 12.2px/12.2px 'DejaVu Sans',sans-serif;color:#111">87/100</div>
<div class="t" style="left:148.60px;top:210.78px;font:normal 8px/8px 'DejaVu Sans',sans-serif;color:#1e1e1e;transform:scaleX(0.923)">Santa Eulària</div>
<div class="t" style="left:148.60px;top:227.95px;font:bold 12.2px/12.2px 'DejaVu Sans',sans-serif;color:#111">86/100</div>
<div class="t" style="left:148.60px;top:240.58px;font:normal 8px/8px 'DejaVu Sans',sans-serif;color:#1e1e1e;transform:scaleX(0.912)">Ibiza</div>
<div class="t" style="left:276.20px;top:197.95px;font:bold 12.2px/12.2px 'DejaVu Sans',sans-serif;color:#111">86/100</div>
<div class="t" style="left:276.20px;top:210.78px;font:normal 8px/8px 'DejaVu Sans',sans-serif;color:#1e1e1e;transform:scaleX(0.927)">Sant Antoni</div>
<div class="t" style="left:276.20px;top:227.95px;font:bold 12.2px/12.2px 'DejaVu Sans',sans-serif;color:#111">85/100</div>
<div class="t" style="left:276.20px;top:240.58px;font:normal 8px/8px 'DejaVu Sans',sans-serif;color:#1e1e1e;transform:scaleX(0.936)">Interior de la isla</div>
<div class="t" style="left:11.86px;top:285.08px;font:bold 13px/13px 'DejaVu Sans Condensed','DejaVu Sans',sans-serif;color:#252423;transform:scaleX(0.937)">Presupuesto vacacional</div>
<div class="t" style="left:206.77px;top:284.48px;font:bold 13px/13px 'DejaVu Sans Condensed','DejaVu Sans',sans-serif;color:#252423;transform:scaleX(0.935)">Presupuesto diario</div>
<div class="t" style="left:91.00px;top:346.39px;font:bold 10.6px/10.6px 'Liberation Sans',Arial,sans-serif;color:#1a1a1a;transform:scaleX(0.873)">Sant Joan</div>
<div class="t" style="left:123.40px;top:362.64px;font:bold 12px/12px 'Liberation Serif',serif;color:#ffffff;transform:scaleX(1.078)">€ 2.050</div>
<div class="t" style="left:21.20px;top:380.29px;font:bold 10.6px/10.6px 'Liberation Sans',Arial,sans-serif;color:#1a1a1a;transform:scaleX(0.861)">Sant Antoni</div>
<div class="t" style="left:57.60px;top:399.74px;font:bold 12px/12px 'Liberation Serif',serif;color:#ffffff;transform:scaleX(1.089)">€ 1.412</div>
<div class="t" style="left:144.80px;top:390.54px;font:bold 12px/12px 'Liberation Serif',serif;color:#ffffff;transform:scaleX(1.078)">€ 1.840</div>
<div class="t" style="left:166.10px;top:427.79px;font:bold 10.6px/10.6px 'Liberation Sans',Arial,sans-serif;color:#1a1a1a;transform:scaleX(0.874)">Santa</div>
<div class="t" style="left:164.90px;top:439.19px;font:bold 10.6px/10.6px 'Liberation Sans',Arial,sans-serif;color:#1a1a1a;transform:scaleX(0.855)">Eulària</div>
<div class="t" style="left:118.50px;top:474.09px;font:bold 10.6px/10.6px 'Liberation Sans',Arial,sans-serif;color:#1a1a1a;transform:scaleX(0.820)">Ciutat d'Eivissa</div>
<div class="t" style="left:123.80px;top:485.04px;font:bold 12px/12px 'Liberation Serif',serif;color:#1a1a1a;transform:scaleX(1.092)">€ 1.678</div>
<div class="t" style="left:50.50px;top:475.84px;font:bold 12px/12px 'Liberation Serif',serif;color:#ffffff;transform:scaleX(1.092)">€ 1.842</div>
<div class="t" style="left:42.30px;top:501.29px;font:bold 10.6px/10.6px 'Liberation Sans',Arial,sans-serif;color:#1a1a1a;transform:scaleX(0.815)">Sant Josep</div>
<div class="t" style="left:287.50px;top:345.69px;font:bold 10.6px/10.6px 'Liberation Sans',Arial,sans-serif;color:#1a1a1a;transform:scaleX(0.873)">Sant Joan</div>
<div class="t" style="left:319.70px;top:362.64px;font:bold 12px/12px 'Liberation Serif',serif;color:#ffffff;transform:scaleX(1.093)">€ 185</div>
<div class="t" style="left:215.90px;top:378.49px;font:bold 10.6px/10.6px 'Liberation Sans',Arial,sans-serif;color:#1a1a1a;transform:scaleX(0.859)">Sant Antoni</div>
<div class="t" style="left:253.70px;top:399.44px;font:bold 12px/12px 'Liberation Serif',serif;color:#ffffff;transform:scaleX(1.148)">€ 188</div>
<div class="t" style="left:344.40px;top:402.74px;font:bold 12px/12px 'Liberation Serif',serif;color:#ffffff;transform:scaleX(1.067)">€ 180</div>
<div class="t" style="left:363.00px;top:426.89px;font:bold 10.6px/10.6px 'Liberation Sans',Arial,sans-serif;color:#1a1a1a;transform:scaleX(0.874)">Santa</div>
<div class="t" style="left:361.80px;top:438.19px;font:bold 10.6px/10.6px 'Liberation Sans',Arial,sans-serif;color:#1a1a1a;transform:scaleX(0.855)">Eulària</div>
<div class="t" style="left:314.70px;top:473.49px;font:bold 10.6px/10.6px 'Liberation Sans',Arial,sans-serif;color:#1a1a1a;transform:scaleX(0.840)">Ciutat d'Eivissa</div>
<div class="t" style="left:321.80px;top:484.14px;font:bold 12px/12px 'Liberation Serif',serif;color:#1a1a1a;transform:scaleX(1.044)">€ 191</div>
<div class="t" style="left:248.30px;top:475.84px;font:bold 12px/12px 'Liberation Serif',serif;color:#ffffff;transform:scaleX(1.070)">€ 213</div>
<div class="t" style="left:237.50px;top:501.99px;font:bold 10.6px/10.6px 'Liberation Sans',Arial,sans-serif;color:#1a1a1a;transform:scaleX(0.827)">Sant Josep</div>
<div class="t" style="left:420.90px;top:158.52px;font:bold 12.6px/12.6px 'DejaVu Sans Condensed','DejaVu Sans',sans-serif;color:#252423;transform:scaleX(0.962)">Transporte preferido</div>
<div class="t" style="left:487.60px;top:181.08px;font:bold 13px/13px 'DejaVu Sans',sans-serif;color:#111;transform:scaleX(1.016)">41,7%</div>
<div class="t" style="left:632.76px;top:181.08px;font:bold 13px/13px 'DejaVu Sans',sans-serif;color:#111;transform:scaleX(1.044)">24,3%</div>
<div class="t" style="left:754.97px;top:181.08px;font:bold 13px/13px 'DejaVu Sans',sans-serif;color:#111;transform:scaleX(1.032)">17,7%</div>
<div class="t" style="left:877.47px;top:181.08px;font:bold 13px/13px 'DejaVu Sans',sans-serif;color:#111;transform:scaleX(1.032)">10,1%</div>
<div class="t" style="left:610.00px;top:229.28px;font:bold 13px/13px 'DejaVu Sans',sans-serif;color:#111;transform:scaleX(1.044)">4,2%</div>
<div class="t" style="left:739.43px;top:229.28px;font:bold 13px/13px 'DejaVu Sans',sans-serif;color:#111;transform:scaleX(1.073)">2,1%</div>
<div class="t" style="left:487.60px;top:196.21px;font:normal 8.8px/8.8px 'DejaVu Sans Condensed','DejaVu Sans',sans-serif;color:#222;transform:scaleX(0.993)">vehículo alquiler</div>
<div class="t" style="left:633.20px;top:196.21px;font:normal 8.8px/8.8px 'DejaVu Sans Condensed','DejaVu Sans',sans-serif;color:#222">taxi</div>
<div class="t" style="left:756.00px;top:196.21px;font:normal 8.8px/8.8px 'DejaVu Sans Condensed','DejaVu Sans',sans-serif;color:#222">bus</div>
<div class="t" style="left:878.50px;top:196.21px;font:normal 8.8px/8.8px 'DejaVu Sans Condensed','DejaVu Sans',sans-serif;color:#222">coche propio</div>
<div class="t" style="left:610.00px;top:244.21px;font:normal 8.8px/8.8px 'DejaVu Sans Condensed','DejaVu Sans',sans-serif;color:#222;transform:scaleX(1.008)">alquiler moto</div>
<div class="t" style="left:740.50px;top:244.21px;font:normal 8.8px/8.8px 'DejaVu Sans Condensed','DejaVu Sans',sans-serif;color:#222">sin respuesta</div>
<div class="t" style="left:419.92px;top:285.28px;font:bold 12.4px/12.4px 'DejaVu Sans Condensed','DejaVu Sans',sans-serif;color:#252423;transform:scaleX(0.984)">Pernoctaciones</div>
<div class="t" style="left:463.70px;top:308.40px;font:bold 15px/15px 'DejaVu Sans',sans-serif;color:#111;transform:scaleX(1.030)">42%</div>
<div class="t" style="left:463.70px;top:325.12px;font:normal 8.9px/8.9px 'DejaVu Sans Condensed','DejaVu Sans',sans-serif;color:#222">Hotel 3-4*</div>
<div class="t" style="left:576.57px;top:308.40px;font:bold 15px/15px 'DejaVu Sans',sans-serif;color:#111;transform:scaleX(1.030)">17%</div>
<div class="t" style="left:577.60px;top:325.12px;font:normal 8.9px/8.9px 'DejaVu Sans Condensed','DejaVu Sans',sans-serif;color:#222">Apto.</div>
<div class="t" style="left:689.97px;top:308.40px;font:bold 15px/15px 'DejaVu Sans',sans-serif;color:#111;transform:scaleX(1.030)">7%</div>
<div class="t" style="left:691.00px;top:325.12px;font:normal 8.9px/8.9px 'DejaVu Sans Condensed','DejaVu Sans',sans-serif;color:#222">Hotel 5*</div>
<div class="t" style="left:803.97px;top:308.40px;font:bold 15px/15px 'DejaVu Sans',sans-serif;color:#111;transform:scaleX(1.030)">7%</div>
<div class="t" style="left:805.00px;top:325.12px;font:normal 8.9px/8.9px 'DejaVu Sans Condensed','DejaVu Sans',sans-serif;color:#222">Hotel 1-2*</div>
<div class="t" style="left:917.77px;top:308.40px;font:bold 15px/15px 'DejaVu Sans',sans-serif;color:#111;transform:scaleX(1.030)">5%</div>
<div class="t" style="left:918.80px;top:325.12px;font:normal 8.9px/8.9px 'DejaVu Sans Condensed','DejaVu Sans',sans-serif;color:#222">C. amigo</div>
<div class="t" style="left:462.67px;top:355.00px;font:bold 15px/15px 'DejaVu Sans',sans-serif;color:#111;transform:scaleX(1.030)">5%</div>
<div class="t" style="left:463.70px;top:371.52px;font:normal 8.9px/8.9px 'DejaVu Sans Condensed','DejaVu Sans',sans-serif;color:#222">Otro</div>
<div class="t" style="left:576.57px;top:355.00px;font:bold 15px/15px 'DejaVu Sans',sans-serif;color:#111;transform:scaleX(1.030)">5%</div>
<div class="t" style="left:577.60px;top:371.52px;font:normal 8.9px/8.9px 'DejaVu Sans Condensed','DejaVu Sans',sans-serif;color:#222">V. turística</div>
<div class="t" style="left:689.97px;top:355.00px;font:bold 15px/15px 'DejaVu Sans',sans-serif;color:#111;transform:scaleX(1.030)">5%</div>
<div class="t" style="left:691.00px;top:371.52px;font:normal 8.9px/8.9px 'DejaVu Sans Condensed','DejaVu Sans',sans-serif;color:#222">Sin resp.</div>
<div class="t" style="left:805.00px;top:355.00px;font:bold 15px/15px 'DejaVu Sans',sans-serif;color:#111;transform:scaleX(1.030)">4%</div>
<div class="t" style="left:805.00px;top:371.52px;font:normal 8.9px/8.9px 'DejaVu Sans Condensed','DejaVu Sans',sans-serif;color:#222">Hostal</div>
<div class="t" style="left:917.77px;top:355.00px;font:bold 15px/15px 'DejaVu Sans',sans-serif;color:#111;transform:scaleX(1.030)">1%</div>
<div class="t" style="left:918.80px;top:371.52px;font:normal 8.9px/8.9px 'DejaVu Sans Condensed','DejaVu Sans',sans-serif;color:#222">H. rural</div>
<div class="t" style="left:424.30px;top:418.02px;font:bold 12px/12px 'DejaVu Sans Condensed','DejaVu Sans',sans-serif;color:#252423;transform:scaleX(1.005)">Lo que más gusta</div>
<div class="t" style="left:426.60px;top:488.92px;font:bold 12px/12px 'DejaVu Sans Condensed','DejaVu Sans',sans-serif;color:#252423;transform:scaleX(1.006)">Lo que menos gusta</div>
<div class="t" style="left:466.72px;top:439.32px;font:bold 14.5px/14.5px 'DejaVu Sans',sans-serif;color:#111;transform:scaleX(1.080)">28%</div>
<div class="t" style="left:467.80px;top:455.05px;font:normal 8.75px/8.75px 'DejaVu Sans Condensed','DejaVu Sans',sans-serif;color:#222">Calas y playas</div>
<div class="t" style="left:602.42px;top:439.32px;font:bold 14.5px/14.5px 'DejaVu Sans',sans-serif;color:#111;transform:scaleX(1.080)">17%</div>
<div class="t" style="left:603.50px;top:455.05px;font:normal 8.75px/8.75px 'DejaVu Sans Condensed','DejaVu Sans',sans-serif;color:#222">Naturaleza</div>
<div class="t" style="left:724.72px;top:439.32px;font:bold 14.5px/14.5px 'DejaVu Sans',sans-serif;color:#111;transform:scaleX(1.080)">12%</div>
<div class="t" style="left:725.80px;top:455.05px;font:normal 8.75px/8.75px 'DejaVu Sans Condensed','DejaVu Sans',sans-serif;color:#222">Ambiente</div>
<div class="t" style="left:843.20px;top:439.32px;font:bold 14.5px/14.5px 'DejaVu Sans',sans-serif;color:#111;transform:scaleX(1.080)">9%</div>
<div class="t" style="left:843.20px;top:455.05px;font:normal 8.75px/8.75px 'DejaVu Sans Condensed','DejaVu Sans',sans-serif;color:#222">Ocio</div>
<div class="t" style="left:949.80px;top:439.32px;font:bold 14.5px/14.5px 'DejaVu Sans',sans-serif;color:#111;transform:scaleX(1.080)">6%</div>
<div class="t" style="left:949.80px;top:455.05px;font:normal 8.75px/8.75px 'DejaVu Sans Condensed','DejaVu Sans',sans-serif;color:#222">Gente</div>
<div class="t" style="left:468.42px;top:506.22px;font:bold 14.5px/14.5px 'DejaVu Sans',sans-serif;color:#111;transform:scaleX(1.080)">26%</div>
<div class="t" style="left:469.50px;top:522.85px;font:normal 8.75px/8.75px 'DejaVu Sans Condensed','DejaVu Sans',sans-serif;color:#222">Alto Nivel de</div>
<div class="t" style="left:469.50px;top:532.65px;font:normal 8.75px/8.75px 'DejaVu Sans Condensed','DejaVu Sans',sans-serif;color:#222">Precios</div>
<div class="t" style="left:608.22px;top:510.22px;font:bold 14.5px/14.5px 'DejaVu Sans',sans-serif;color:#111;transform:scaleX(1.080)">12%</div>
<div class="t" style="left:609.30px;top:526.65px;font:normal 8.75px/8.75px 'DejaVu Sans Condensed','DejaVu Sans',sans-serif;color:#222">Masificación</div>
<div class="t" style="left:714.42px;top:506.22px;font:bold 14.5px/14.5px 'DejaVu Sans',sans-serif;color:#111;transform:scaleX(1.080)">10%</div>
<div class="t" style="left:716.50px;top:522.65px;font:normal 8.75px/8.75px 'DejaVu Sans Condensed','DejaVu Sans',sans-serif;color:#222">Turismo de</div>
<div class="t" style="left:715.50px;top:532.25px;font:normal 8.75px/8.75px 'DejaVu Sans Condensed','DejaVu Sans',sans-serif;color:#222">Excesos</div>
<div class="t" style="left:851.80px;top:510.22px;font:bold 14.5px/14.5px 'DejaVu Sans',sans-serif;color:#111;transform:scaleX(1.080)">9%</div>
<div class="t" style="left:851.80px;top:526.65px;font:normal 8.75px/8.75px 'DejaVu Sans Condensed','DejaVu Sans',sans-serif;color:#222">Servicios</div>
<div class="t" style="left:945.00px;top:510.22px;font:bold 14.5px/14.5px 'DejaVu Sans',sans-serif;color:#111;transform:scaleX(1.080)">8%</div>
<div class="t" style="left:945.00px;top:526.65px;font:normal 8.75px/8.75px 'DejaVu Sans Condensed','DejaVu Sans',sans-serif;color:#222">Limpieza</div>
</body></html>
